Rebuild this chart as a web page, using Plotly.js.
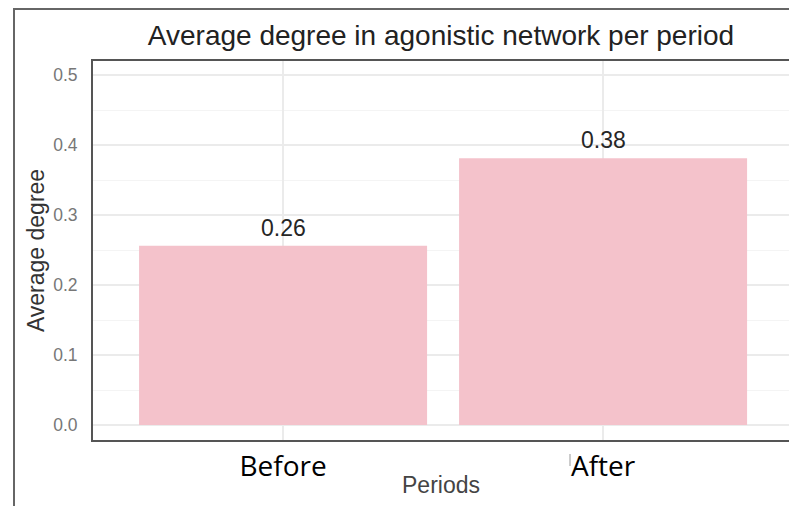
<!DOCTYPE html>
<html>
<head>
<meta charset="utf-8">
<script src="https://cdn.plot.ly/plotly-3.0.1.min.js"></script>
<style>html,body{margin:0;padding:0;background:#fff;}#chart{width:789px;height:506px;}</style>
</head>
<body>
<div id="chart"></div>
<script>
const categories = ['Before', 'After'];
const values = [0.256, 0.381];
const valueLabels = ['0.26', '0.38'];
const yTickVals = [0, 0.1, 0.2, 0.3, 0.4, 0.5];
const yTickText = ['0.0', '0.1', '0.2', '0.3', '0.4', '0.5'];

const W = 789, H = 506;
const L = 93, R = 0, T = 61, B = 66;
const pw = W - L - R, ph = H - T - B;
const px = x => (x - L) / pw;          // pixel -> paper x
const py = y => (H - B - y) / ph;      // pixel -> paper y

const trace = {
  type: 'bar',
  x: categories,
  y: values,
  width: 0.9,
  marker: {color: '#F4C2CB', line: {width: 0}},
  hoverinfo: 'none'
};

const labelAnn = categories.map((c, i) => ({
  x: c, y: values[i], xref: 'x', yref: 'y',
  text: valueLabels[i], showarrow: false,
  yanchor: 'bottom', yshift: 3,
  font: {family: 'Liberation Sans, Arial, sans-serif', size: 23, color: '#262626'}
}));

const layout = {
  width: W, height: H,
  margin: {l: L, r: R, t: T, b: B, pad: 0},
  paper_bgcolor: '#ffffff',
  plot_bgcolor: '#ffffff',
  showlegend: false,
  title: {
    text: 'Average degree in agonistic network per period',
    font: {family: 'Liberation Sans, Arial, sans-serif', size: 28, color: '#222222'},
    x: 0.5, xref: 'paper', xanchor: 'center',
    y: 1 - 35 / H, yref: 'container', yanchor: 'middle'
  },
  xaxis: {
    type: 'category',
    range: [-0.594, 1.581],
    showgrid: true, gridcolor: '#ebebeb', gridwidth: 1.5,
    zeroline: false,
    showline: true, mirror: true, linecolor: '#555555', linewidth: 2,
    ticks: '', ticklen: 0,
    tickfont: {family: 'Open Sans, Noto Sans, sans-serif', size: 28, color: '#000000'},
    fixedrange: true
  },
  yaxis: {
    range: [-0.0214, 0.52],
    tickvals: yTickVals, ticktext: yTickText,
    showgrid: true, gridcolor: '#ebebeb', gridwidth: 1.5,
    minor: {dtick: 0.05, tick0: 0, showgrid: true, gridcolor: '#f4f4f4', gridwidth: 1},
    zeroline: false,
    showline: true, linecolor: '#555555', linewidth: 2,
    ticks: 'outside', ticklen: 10, tickcolor: 'rgba(0,0,0,0)',
    tickfont: {family: 'Liberation Sans, Arial, sans-serif', size: 17.5, color: '#777777'},
    title: {
      text: 'Average degree', standoff: 2,
      font: {family: 'Liberation Sans, Arial, sans-serif', size: 23, color: '#333333'}
    },
    fixedrange: true
  },
  annotations: labelAnn.concat([{
    text: 'Periods', showarrow: false,
    xref: 'paper', yref: 'paper', x: 0.5, y: py(485),
    xanchor: 'center', yanchor: 'middle',
    font: {family: 'Liberation Sans, Arial, sans-serif', size: 23, color: '#444444'}
  }]),
  shapes: [
    {type: 'line', xref: 'paper', yref: 'paper', x0: px(14), x1: px(14), y0: py(9), y1: py(510),
     line: {color: '#666666', width: 2}},
    {type: 'line', xref: 'paper', yref: 'paper', x0: px(13), x1: px(792), y0: py(9), y1: py(9),
     line: {color: '#666666', width: 2}},
    {type: 'line', xref: 'paper', yref: 'paper', x0: px(570), x1: px(570), y0: py(454), y1: py(466),
     line: {color: '#999999', width: 1}}
  ]
};

Plotly.newPlot('chart', [trace], layout, {displayModeBar: false, staticPlot: true});
</script>
</body>
</html>
